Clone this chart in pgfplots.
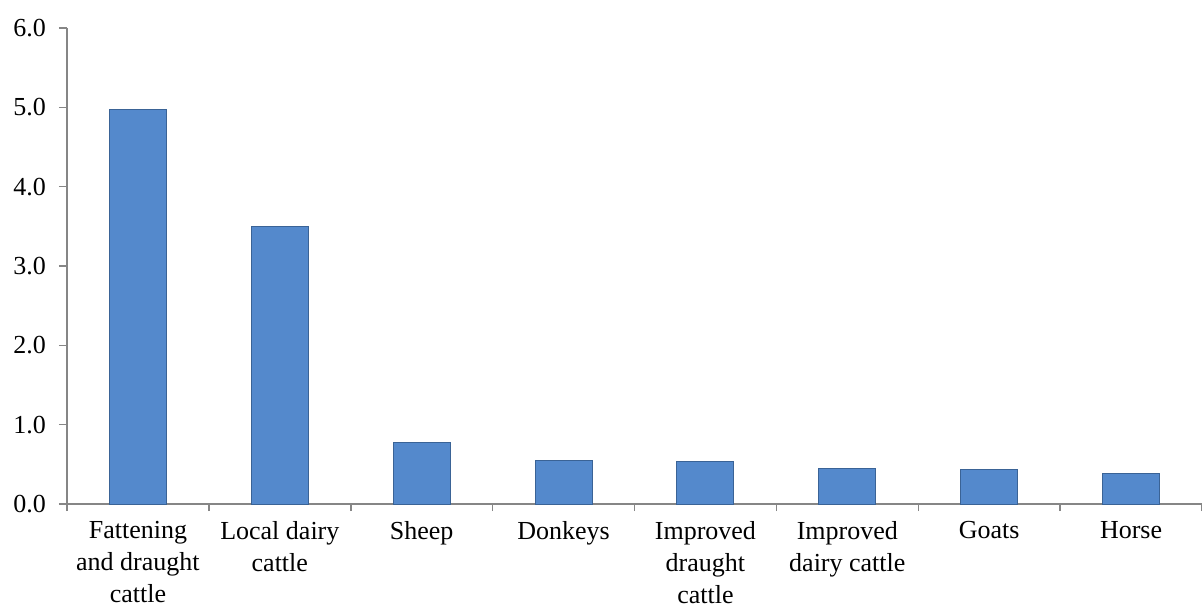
\documentclass[border=0pt]{standalone}
\usepackage{fontspec}
\setmainfont{Liberation Serif}
\usepackage{pgfplots}
\pgfplotsset{compat=1.18}
\definecolor{barblue}{RGB}{84,137,204}
\definecolor{baredge}{RGB}{58,99,150}
\definecolor{axgray}{RGB}{134,134,134}
\begin{document}
\begin{tikzpicture}
\path[use as bounding box] (-33.5pt,-51pt) rectangle (567.5pt,252pt);
\begin{axis}[
  at={(0,0)}, anchor=south west,
  scale only axis, width=567.5pt, height=238pt,
  xmin=-0.5, xmax=7.5, ymin=0, ymax=6,
  axis x line*=bottom, axis y line*=left,
  axis line style={draw=axgray, line width=0.75pt},
  xtick={0,...,7},
  xticklabels={{Fattening\\and draught\\cattle},{Local dairy\\cattle},Sheep,Donkeys,{Improved\\draught\\cattle},{Improved\\dairy cattle},Goats,Horse},
  minor xtick={-0.5,0.5,...,7.5},
  ytick={0,1,...,6},
  tick align=outside,
  major x tick style={draw=none},
  major tick length=4pt,
  minor tick length=3.5pt,
  every tick/.style={draw=axgray, line width=0.75pt},
  minor x tick style={draw=axgray, line width=0.75pt},
  /pgf/number format/assume math mode=true,
  y tick label style={/pgf/number format/fixed, /pgf/number format/fixed zerofill, /pgf/number format/precision=1},
  tick label style={font=\fontsize{13}{16}\selectfont},
  xticklabel style={align=center, anchor=north, yshift=-1pt},
  yticklabel style={xshift=-3pt},
]
\addplot[ybar, bar width=28.5pt, fill=barblue, draw=baredge, line width=0.5pt]
  coordinates {(0,4.97) (1,3.50) (2,0.78) (3,0.55) (4,0.53) (5,0.45) (6,0.44) (7,0.38)};
\end{axis}
\end{tikzpicture}
\end{document}
